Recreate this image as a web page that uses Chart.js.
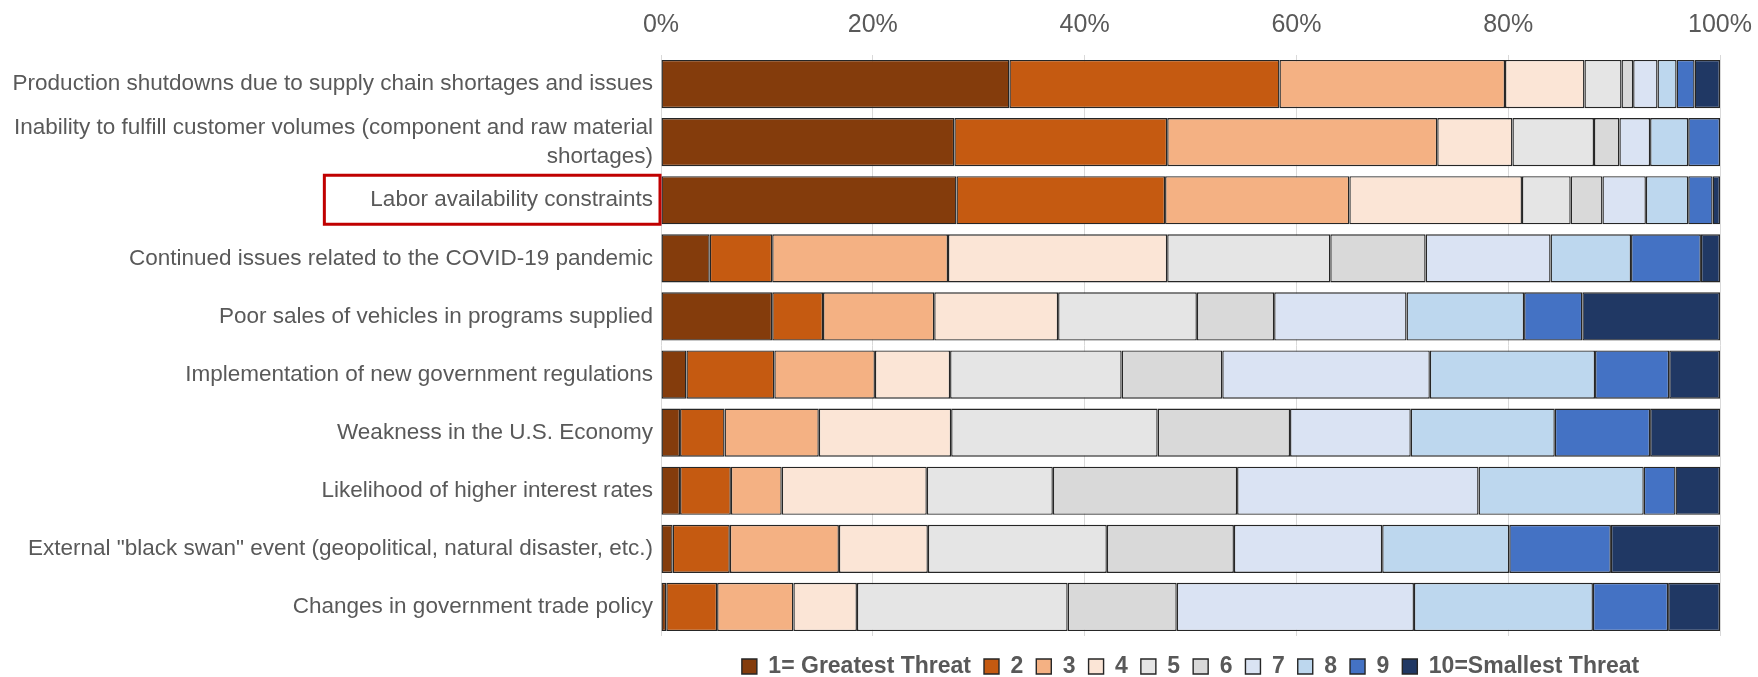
<!DOCTYPE html>
<html>
<head>
<meta charset="utf-8">
<script src="https://cdn.jsdelivr.net/npm/chart.js@4.4.1/dist/chart.umd.min.js"></script>
<style>
  html, body { margin: 0; padding: 0; background: #fff; }
  #wrap { width: 1758px; height: 677px; position: relative; }
</style>
</head>
<body>
<div id="wrap"><canvas id="threatChart"></canvas></div>
<script>
// ---- data (share of respondents, %) ----
const categories = [
    "Production shutdowns due to supply chain shortages and issues",
    ["Inability to fulfill customer volumes (component and raw material", "shortages)"],
    "Labor availability constraints",
    "Continued issues related to the COVID-19 pandemic",
    "Poor sales of vehicles in programs supplied",
    "Implementation of new government regulations",
    "Weakness in the U.S. Economy",
    "Likelihood of higher interest rates",
    "External \"black swan\" event (geopolitical, natural disaster, etc.)",
    "Changes in government trade policy"
];

const rankLabels = ["1= Greatest Threat", "2", "3", "4", "5", "6", "7", "8", "9", "10=Smallest Threat"];

const rank1  = [32.9, 27.7, 27.9,  4.6, 10.5,  2.4,  1.8,  1.8,  1.1,  0.5];
const rank2  = [25.5, 20.1, 19.7,  5.9,  4.8,  8.3,  4.2,  4.8,  5.4,  4.8];
const rank3  = [21.3, 25.5, 17.4, 16.6, 10.5,  9.5,  8.9,  4.8, 10.3,  7.2];
const rank4  = [ 7.5,  7.1, 16.3, 20.7, 11.7,  7.1, 12.5, 13.7,  8.4,  6.0];
const rank5  = [ 3.5,  7.7,  4.6, 15.4, 13.1, 16.2, 19.5, 11.9, 16.9, 19.9];
const rank6  = [ 1.1,  2.4,  3.0,  9.0,  7.3,  9.5, 12.5, 17.4, 12.0, 10.3];
const rank7  = [ 2.3,  2.9,  4.1, 11.8, 12.5, 19.6, 11.4, 22.8, 14.0, 22.4];
const rank8  = [ 1.8,  3.6,  4.0,  7.6, 11.1, 15.6, 13.6, 15.6, 12.0, 16.9];
const rank9  = [ 1.7,  3.0,  2.3,  6.6,  5.5,  7.0,  9.0,  3.0,  9.6,  7.1];
const rank10 = [ 2.4,  0.0,  0.7,  1.8, 13.0,  4.8,  6.6,  4.2, 10.3,  4.9];

const xTicks = [0, 20, 40, 60, 80, 100];

const rankColors = ["#843C0C", "#C55A11", "#F4B183", "#FBE5D6", "#E5E5E5",
                    "#D9D9D9", "#DAE3F3", "#BDD7EE", "#4472C4", "#203864"];

const highlightIndex = 2; // the boxed label

const FONT = "'Liberation Sans', Arial, sans-serif";

// ---- build datasets ----
const seriesValues = [rank1, rank2, rank3, rank4, rank5, rank6, rank7, rank8, rank9, rank10];
const datasets = seriesValues.map((vals, i) => ({
    label: rankLabels[i],
    data: vals,
    backgroundColor: rankColors[i],
    borderColor: "#262626",
    borderWidth: 1.4,
    borderSkipped: false,
    categoryPercentage: 0.83,
    barPercentage: 1.0
}));

// red box around the highlighted category label
const labelBox = {
    id: "labelBox",
    afterDraw(chart) {
        const ctx = chart.ctx;
        const y = chart.scales.y.getPixelForValue(highlightIndex);
        const left = chart.chartArea.left;
        ctx.save();
        ctx.font = "22.5px " + FONT;
        const w = ctx.measureText(categories[highlightIndex]).width;
        const x0 = left - 8 - w - 46;
        ctx.strokeStyle = "#C00000";
        ctx.lineWidth = 3;
        ctx.strokeRect(x0, y - 25, left - 1 - x0, 49);
        ctx.restore();
    }
};

new Chart(document.getElementById("threatChart"), {
    type: "bar",
    data: { labels: categories, datasets: datasets },
    options: {
        indexAxis: "y",
        responsive: true,
        maintainAspectRatio: false,
        animation: false,
        layout: { padding: { left: 0, right: 38, top: 0, bottom: -11 } },
        scales: {
            x: {
                position: "top",
                stacked: true,
                min: 0,
                max: 100,
                afterBuildTicks: axis => { axis.ticks = xTicks.map(v => ({ value: v })); },
                afterFit: axis => { axis.height = 55; },
                grid: { color: "#D9D9D9", drawTicks: true, tickLength: 15, tickColor: "rgba(0,0,0,0)" },
                border: { display: false },
                ticks: {
                    color: "#595959",
                    padding: 0,
                    font: { family: FONT, size: 25 },
                    callback: v => v + "%"
                }
            },
            y: {
                stacked: true,
                afterFit: axis => { axis.width = 661; },
                grid: { display: false, drawTicks: false },
                border: { display: false },
                ticks: {
                    autoSkip: false,
                    color: "#595959",
                    padding: 8,
                    font: { family: FONT, size: 22.5, lineHeight: 1.28 }
                }
            }
        },
        plugins: {
            legend: {
                position: "bottom",
                align: "center",
                fullSize: false,
                title: { display: true, text: "", font: { size: 1, lineHeight: 1 }, padding: { top: 5, bottom: 0 } },
                labels: {
                    color: "#595959",
                    boxWidth: 15,
                    boxHeight: 15,
                    padding: 13,
                    font: { family: FONT, size: 23, weight: "bold", lineHeight: 1 }
                }
            },
            tooltip: { enabled: false }
        }
    },
    plugins: [labelBox]
});
</script>
</body>
</html>
